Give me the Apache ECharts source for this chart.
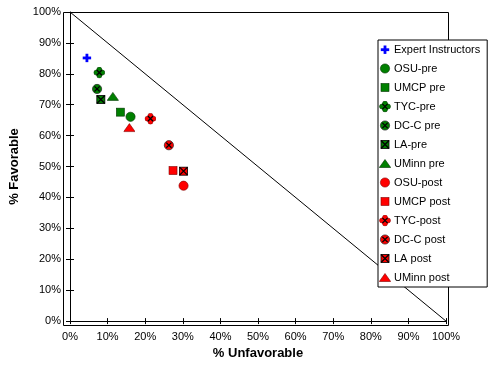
<!DOCTYPE html>
<html>
<head>
<meta charset="utf-8">
<script src="https://cdn.jsdelivr.net/npm/echarts@6/dist/echarts.min.js"></script>
<style>html,body{margin:0;padding:0;background:#fff;}#c{width:500px;height:365px;}</style>
</head>
<body>
<div id="c"></div>
<script>
const seriesNames = ['Expert Instructors','OSU-pre','UMCP pre','TYC-pre','DC-C pre','LA-pre','UMinn pre','OSU-post','UMCP post','TYC-post','DC-C post','LA post','UMinn post'];
const unfavorable = [4.5, 16.1, 13.4, 7.8, 7.2, 8.2, 11.4, 30.2, 27.4, 21.4, 26.3, 30.2, 15.8];
const favorable   = [85.2, 66.1, 67.6, 80.4, 75.1, 71.7, 72.7, 43.8, 48.7, 65.5, 56.9, 48.5, 62.6];
const markerKinds = ['plus','circle','square','clover','circlex','squarex','triangle','circle','square','clover','circlex','squarex','triangle'];
const markerColors = ['#0000ff','#008000','#008000','#008000','#008000','#008000','#008000','#ff0000','#ff0000','#ff0000','#ff0000','#ff0000','#ff0000'];
const diagonal = [[0,100],[100,0]];
const tickPercents = [0,10,20,30,40,50,60,70,80,90,100];

function svgFor(kind, c){
  const dark = c === '#008000' ? '#003300' : (c === '#ff0000' ? '#800000' : c);
  const xl = '<path d="M3.4 3.4 L8.6 8.6 M8.6 3.4 L3.4 8.6" stroke="#000" stroke-width="1.3"/>';
  let body = '';
  if (kind === 'plus') body = '<rect x="4.6" y="2" width="2.8" height="8.4" fill="'+c+'"/><rect x="1.8" y="4.8" width="8.4" height="2.8" fill="'+c+'"/>';
  else if (kind === 'circle') body = '<circle cx="6" cy="6" r="4.6" fill="'+c+'" stroke="'+dark+'" stroke-width="0.6"/>';
  else if (kind === 'square') body = '<rect x="2" y="2" width="8" height="8" fill="'+c+'" stroke="'+dark+'" stroke-width="0.6"/>';
  else if (kind === 'triangle') body = '<polygon points="0.3,10 6,2 11.7,10" fill="'+c+'" stroke="'+dark+'" stroke-width="0.6"/>';
  else if (kind === 'circlex') body = '<circle cx="6" cy="6" r="4.6" fill="'+c+'" stroke="#222" stroke-width="0.7"/>' + xl;
  else if (kind === 'squarex') body = '<rect x="2" y="2" width="8" height="8" fill="'+c+'" stroke="#000" stroke-width="0.8"/>' + '<path d="M2 2 L10 10 M10 2 L2 10" stroke="#000" stroke-width="1.2"/>';
  else if (kind === 'clover') body = '<g fill="'+c+'" stroke="'+dark+'" stroke-width="0.5"><circle cx="6" cy="3" r="2.5"/><circle cx="9" cy="6" r="2.5"/><circle cx="6" cy="9" r="2.5"/><circle cx="3" cy="6" r="2.5"/></g><rect x="3" y="3" width="6" height="6" fill="'+c+'"/>' + xl;
  const svg = '<svg xmlns="http://www.w3.org/2000/svg" width="12" height="12" viewBox="0 0 12 12">' + body + '</svg>';
  return 'image://data:image/svg+xml;charset=utf-8,' + encodeURIComponent(svg);
}

const font = 'Arial, "Liberation Sans", sans-serif';
const chart = echarts.init(document.getElementById('c'), null, {renderer:'canvas'});

const series = seriesNames.map((n,i)=>({
  name: n, type: 'scatter', xAxisIndex:0, yAxisIndex:0,
  symbol: svgFor(markerKinds[i], markerColors[i]), symbolSize: 12,
  itemStyle: {opacity: 1, color: markerColors[i]},
  emphasis: {disabled: true},
  data: [[unfavorable[i], favorable[i]]], z: 5
}));
series.unshift({
  name: 'diag', type: 'line', data: diagonal, symbol: 'none', silent: true,
  lineStyle: {color:'#000', width:1}, z: 3
});

const axisCommon = {
  min: 0, max: 100, interval: 10,
  axisLine: {show:true, lineStyle:{color:'#000', width:1}},
  splitLine: {show:false}
};

chart.setOption({
  animation: false,
  backgroundColor: '#fff',
  grid: {left: 63, top: 12, width: 383, height: 313, containLabel: false},
  graphic: [{type:'rect', shape:{x:63.5, y:12.5, width:385, height:313}, style:{fill:'none', stroke:'#000', lineWidth:1}, z: 1, silent:true}],
  xAxis: [
    Object.assign({}, axisCommon, {
      type:'value', position:'bottom',
      name: '% Unfavorable', nameLocation:'middle', nameGap: 24,
      nameTextStyle: {fontFamily: font, fontWeight:'bold', fontSize: 13, color:'#000'},
      axisTick: {show:true, inside:false, length:3, lineStyle:{color:'#000'}},
      axisLabel: {fontFamily: font, fontSize: 11, color:'#000', margin: 10,
        formatter: v => tickPercents.includes(v) ? v + '%' : ''}
    }),
    Object.assign({}, axisCommon, {
      type:'value', position:'bottom', axisLine:{show:false},
      axisTick: {show:true, inside:true, length:3, lineStyle:{color:'#000'}},
      axisLabel: {show:false}
    })
  ],
  yAxis: [
    Object.assign({}, axisCommon, {
      type:'value', position:'left',
      name: '% Favorable', nameLocation:'middle', nameGap: 49, nameRotate: 90,
      nameTextStyle: {fontFamily: font, fontWeight:'bold', fontSize: 13, color:'#000'},
      axisTick: {show:true, inside:false, length:4, lineStyle:{color:'#000'}},
      axisLabel: {fontFamily: font, fontSize: 11, color:'#000', margin: 9,
        formatter: v => tickPercents.includes(v) ? v + '%' : ''}
    }),
    Object.assign({}, axisCommon, {
      type:'value', position:'left', axisLine:{show:false},
      axisTick: {show:true, inside:true, length:4, lineStyle:{color:'#000'}},
      axisLabel: {show:false}
    })
  ],
  legend: {
    data: seriesNames,
    orient: 'vertical', left: 378, top: 40,
    itemWidth: 12, itemHeight: 12, itemGap: 7,
    padding: [3.5, 7, 3.5, 1],
    backgroundColor: '#fff', borderColor: '#000', borderWidth: 1, borderRadius: 0,
    textStyle: {fontFamily: font, fontSize: 11, color:'#000', padding:[0,0,0,-2]},
    z: 10
  },
  series: series
});
</script>
</body>
</html>
